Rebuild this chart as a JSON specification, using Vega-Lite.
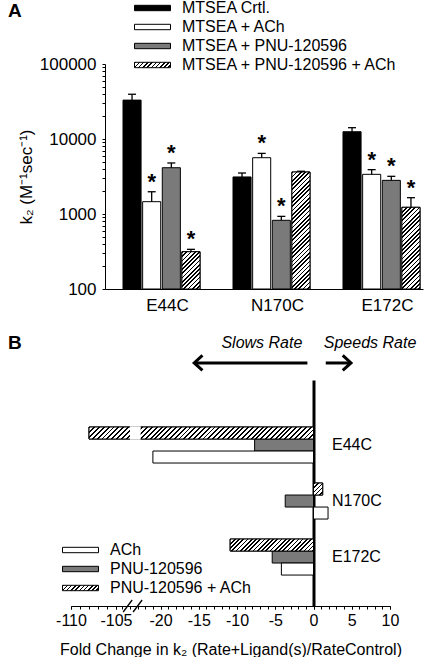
{
"$schema": "https://vega.github.io/schema/vega-lite/v6.json",
"padding": {"left": 8, "top": 0, "right": 0, "bottom": 0},
"spacing": 0,
"params": [
{"name": "hs", "value": [
{"offset":0,"color":"#000"},{"offset":0.008,"color":"#000"},{"offset":0.008,"color":"#fff"},{"offset":0.02,"color":"#fff"},
{"offset":0.02,"color":"#000"},{"offset":0.028,"color":"#000"},{"offset":0.028,"color":"#fff"},{"offset":0.04,"color":"#fff"},
{"offset":0.04,"color":"#000"},{"offset":0.048,"color":"#000"},{"offset":0.048,"color":"#fff"},{"offset":0.06,"color":"#fff"},
{"offset":0.06,"color":"#000"},{"offset":0.068,"color":"#000"},{"offset":0.068,"color":"#fff"},{"offset":0.08,"color":"#fff"},
{"offset":0.08,"color":"#000"},{"offset":0.088,"color":"#000"},{"offset":0.088,"color":"#fff"},{"offset":0.1,"color":"#fff"},
{"offset":0.1,"color":"#000"},{"offset":0.108,"color":"#000"},{"offset":0.108,"color":"#fff"},{"offset":0.12,"color":"#fff"},
{"offset":0.12,"color":"#000"},{"offset":0.128,"color":"#000"},{"offset":0.128,"color":"#fff"},{"offset":0.14,"color":"#fff"},
{"offset":0.14,"color":"#000"},{"offset":0.148,"color":"#000"},{"offset":0.148,"color":"#fff"},{"offset":0.16,"color":"#fff"},
{"offset":0.16,"color":"#000"},{"offset":0.168,"color":"#000"},{"offset":0.168,"color":"#fff"},{"offset":0.18,"color":"#fff"},
{"offset":0.18,"color":"#000"},{"offset":0.188,"color":"#000"},{"offset":0.188,"color":"#fff"},{"offset":0.2,"color":"#fff"},
{"offset":0.2,"color":"#000"},{"offset":0.208,"color":"#000"},{"offset":0.208,"color":"#fff"},{"offset":0.22,"color":"#fff"},
{"offset":0.22,"color":"#000"},{"offset":0.228,"color":"#000"},{"offset":0.228,"color":"#fff"},{"offset":0.24,"color":"#fff"},
{"offset":0.24,"color":"#000"},{"offset":0.248,"color":"#000"},{"offset":0.248,"color":"#fff"},{"offset":0.26,"color":"#fff"},
{"offset":0.26,"color":"#000"},{"offset":0.268,"color":"#000"},{"offset":0.268,"color":"#fff"},{"offset":0.28,"color":"#fff"},
{"offset":0.28,"color":"#000"},{"offset":0.288,"color":"#000"},{"offset":0.288,"color":"#fff"},{"offset":0.3,"color":"#fff"},
{"offset":0.3,"color":"#000"},{"offset":0.308,"color":"#000"},{"offset":0.308,"color":"#fff"},{"offset":0.32,"color":"#fff"},
{"offset":0.32,"color":"#000"},{"offset":0.328,"color":"#000"},{"offset":0.328,"color":"#fff"},{"offset":0.34,"color":"#fff"},
{"offset":0.34,"color":"#000"},{"offset":0.348,"color":"#000"},{"offset":0.348,"color":"#fff"},{"offset":0.36,"color":"#fff"},
{"offset":0.36,"color":"#000"},{"offset":0.368,"color":"#000"},{"offset":0.368,"color":"#fff"},{"offset":0.38,"color":"#fff"},
{"offset":0.38,"color":"#000"},{"offset":0.388,"color":"#000"},{"offset":0.388,"color":"#fff"},{"offset":0.4,"color":"#fff"},
{"offset":0.4,"color":"#000"},{"offset":0.408,"color":"#000"},{"offset":0.408,"color":"#fff"},{"offset":0.42,"color":"#fff"},
{"offset":0.42,"color":"#000"},{"offset":0.428,"color":"#000"},{"offset":0.428,"color":"#fff"},{"offset":0.44,"color":"#fff"},
{"offset":0.44,"color":"#000"},{"offset":0.448,"color":"#000"},{"offset":0.448,"color":"#fff"},{"offset":0.46,"color":"#fff"},
{"offset":0.46,"color":"#000"},{"offset":0.468,"color":"#000"},{"offset":0.468,"color":"#fff"},{"offset":0.48,"color":"#fff"},
{"offset":0.48,"color":"#000"},{"offset":0.488,"color":"#000"},{"offset":0.488,"color":"#fff"},{"offset":0.5,"color":"#fff"},
{"offset":0.5,"color":"#000"},{"offset":0.508,"color":"#000"},{"offset":0.508,"color":"#fff"},{"offset":0.52,"color":"#fff"},
{"offset":0.52,"color":"#000"},{"offset":0.528,"color":"#000"},{"offset":0.528,"color":"#fff"},{"offset":0.54,"color":"#fff"},
{"offset":0.54,"color":"#000"},{"offset":0.548,"color":"#000"},{"offset":0.548,"color":"#fff"},{"offset":0.56,"color":"#fff"},
{"offset":0.56,"color":"#000"},{"offset":0.568,"color":"#000"},{"offset":0.568,"color":"#fff"},{"offset":0.58,"color":"#fff"},
{"offset":0.58,"color":"#000"},{"offset":0.588,"color":"#000"},{"offset":0.588,"color":"#fff"},{"offset":0.6,"color":"#fff"},
{"offset":0.6,"color":"#000"},{"offset":0.608,"color":"#000"},{"offset":0.608,"color":"#fff"},{"offset":0.62,"color":"#fff"},
{"offset":0.62,"color":"#000"},{"offset":0.628,"color":"#000"},{"offset":0.628,"color":"#fff"},{"offset":0.64,"color":"#fff"},
{"offset":0.64,"color":"#000"},{"offset":0.648,"color":"#000"},{"offset":0.648,"color":"#fff"},{"offset":0.66,"color":"#fff"},
{"offset":0.66,"color":"#000"},{"offset":0.668,"color":"#000"},{"offset":0.668,"color":"#fff"},{"offset":0.68,"color":"#fff"},
{"offset":0.68,"color":"#000"},{"offset":0.688,"color":"#000"},{"offset":0.688,"color":"#fff"},{"offset":0.7,"color":"#fff"},
{"offset":0.7,"color":"#000"},{"offset":0.708,"color":"#000"},{"offset":0.708,"color":"#fff"},{"offset":0.72,"color":"#fff"},
{"offset":0.72,"color":"#000"},{"offset":0.728,"color":"#000"},{"offset":0.728,"color":"#fff"},{"offset":0.74,"color":"#fff"},
{"offset":0.74,"color":"#000"},{"offset":0.748,"color":"#000"},{"offset":0.748,"color":"#fff"},{"offset":0.76,"color":"#fff"},
{"offset":0.76,"color":"#000"},{"offset":0.768,"color":"#000"},{"offset":0.768,"color":"#fff"},{"offset":0.78,"color":"#fff"},
{"offset":0.78,"color":"#000"},{"offset":0.788,"color":"#000"},{"offset":0.788,"color":"#fff"},{"offset":0.8,"color":"#fff"},
{"offset":0.8,"color":"#000"},{"offset":0.808,"color":"#000"},{"offset":0.808,"color":"#fff"},{"offset":0.82,"color":"#fff"},
{"offset":0.82,"color":"#000"},{"offset":0.828,"color":"#000"},{"offset":0.828,"color":"#fff"},{"offset":0.84,"color":"#fff"},
{"offset":0.84,"color":"#000"},{"offset":0.848,"color":"#000"},{"offset":0.848,"color":"#fff"},{"offset":0.86,"color":"#fff"},
{"offset":0.86,"color":"#000"},{"offset":0.868,"color":"#000"},{"offset":0.868,"color":"#fff"},{"offset":0.88,"color":"#fff"},
{"offset":0.88,"color":"#000"},{"offset":0.888,"color":"#000"},{"offset":0.888,"color":"#fff"},{"offset":0.9,"color":"#fff"},
{"offset":0.9,"color":"#000"},{"offset":0.908,"color":"#000"},{"offset":0.908,"color":"#fff"},{"offset":0.92,"color":"#fff"},
{"offset":0.92,"color":"#000"},{"offset":0.928,"color":"#000"},{"offset":0.928,"color":"#fff"},{"offset":0.94,"color":"#fff"},
{"offset":0.94,"color":"#000"},{"offset":0.948,"color":"#000"},{"offset":0.948,"color":"#fff"},{"offset":0.96,"color":"#fff"},
{"offset":0.96,"color":"#000"},{"offset":0.968,"color":"#000"},{"offset":0.968,"color":"#fff"},{"offset":0.98,"color":"#fff"},
{"offset":0.98,"color":"#000"},{"offset":0.988,"color":"#000"},{"offset":0.988,"color":"#fff"},{"offset":1,"color":"#fff"}
]},
{"name": "gLeg", "expr": "{gradient:'linear',x1:0,y1:0,x2:5.763,y2:0.8644,stops:hs}"},
{"name": "gA1", "expr": "{gradient:'linear',x1:0,y1:0,x2:2.234,y2:4.608,stops:hs}"},
{"name": "gA2", "expr": "{gradient:'linear',x1:0,y1:0,x2:0.2735,y2:1.771,stops:hs}"},
{"name": "gA3", "expr": "{gradient:'linear',x1:0,y1:0,x2:0.5476,y2:2.4756,stops:hs}"},
{"name": "gB1", "expr": "{gradient:'linear',x1:0,y1:0,x2:1.0679,y2:0.05708,stops:hs}"},
{"name": "gB2", "expr": "{gradient:'linear',x1:0,y1:0,x2:8.53,y2:11.15,stops:hs}"},
{"name": "gB3", "expr": "{gradient:'linear',x1:0,y1:0,x2:2.4928,y2:0.3588,stops:hs}"}
],
"config": {
"font": "Liberation Sans",
"view": {"stroke": null},
"axis": {"labelColor": "black", "titleColor": "black", "domainColor": "black", "tickColor": "black", "grid": false, "labelFont": "Liberation Sans", "titleFont": "Liberation Sans", "titleFontWeight": "normal"},
"legend": {"labelColor": "black", "labelFont": "Liberation Sans"},
"title": {"color": "black", "font": "Liberation Sans"}
},
"resolve": {"scale": {"x": "independent", "y": "independent", "color": "independent"}, "legend": {"color": "independent"}},
"vconcat": [
{
"width": 318, "height": 225,
"title": {"text": "A", "anchor": "start", "frame": "group", "dx": -97, "offset": -21, "fontSize": 19, "fontWeight": "bold"},
"data": {"values": [
{"mutant":"E44C","series":"MTSEA Crtl.","value":33000,"err":39500,"sig":false},
{"mutant":"E44C","series":"MTSEA + ACh","value":1460,"err":1980,"sig":true},
{"mutant":"E44C","series":"MTSEA + PNU-120596","value":4140,"err":4790,"sig":true},
{"mutant":"E44C","series":"MTSEA + PNU-120596 + ACh","value":314,"err":338,"sig":true},
{"mutant":"N170C","series":"MTSEA Crtl.","value":3120,"err":3520,"sig":false},
{"mutant":"N170C","series":"MTSEA + ACh","value":5630,"err":6430,"sig":true},
{"mutant":"N170C","series":"MTSEA + PNU-120596","value":824,"err":930,"sig":true},
{"mutant":"N170C","series":"MTSEA + PNU-120596 + ACh","value":3630,"err":3715,"sig":false},
{"mutant":"E172C","series":"MTSEA Crtl.","value":12500,"err":14150,"sig":false},
{"mutant":"E172C","series":"MTSEA + ACh","value":3380,"err":3900,"sig":true},
{"mutant":"E172C","series":"MTSEA + PNU-120596","value":2810,"err":3180,"sig":true},
{"mutant":"E172C","series":"MTSEA + PNU-120596 + ACh","value":1228,"err":1650,"sig":true}
]},
"encoding": {
"x": {"field": "mutant", "type": "nominal", "title": null, "scale": {"domain": ["E44C","N170C","E172C"], "paddingInner": 0.3, "paddingOuter": 0.0955, "align": 0.857},
"axis": {"ticks": false, "labelFontSize": 17, "labelPadding": 8, "labelAngle": 0, "labelOffset": 6}},
"xOffset": {"field": "series", "type": "nominal", "scale": {"domain": ["MTSEA Crtl.","MTSEA + ACh","MTSEA + PNU-120596","MTSEA + PNU-120596 + ACh"], "paddingInner": 0.08, "paddingOuter": 0}}
},
"layer": [
{"mark": {"type": "bar", "stroke": "black", "strokeWidth": 1},
"encoding": {
"y": {"field": "value", "type": "quantitative", "stack": null, "title": "k₂ (M⁻¹sec⁻¹)", "scale": {"type": "log", "domain": [100, 100000], "nice": false},
"axis": {"values": [100,200,300,400,500,600,700,800,900,1000,2000,3000,4000,5000,6000,7000,8000,9000,10000,20000,30000,40000,50000,60000,70000,80000,90000,100000], "format": "d",
"labelExpr": "datum.value == 100 || datum.value == 1000 || datum.value == 10000 || datum.value == 100000 ? datum.label : ''",
"tickSize": 3, "labelFontSize": 17, "labelPadding": 6, "titleFontSize": 17, "titlePadding": 4, "labelOverlap": false, "labelFlush": false}},
"color": {"field": "series", "type": "nominal", "scale": {"domain": ["MTSEA Crtl.","MTSEA + ACh","MTSEA + PNU-120596","MTSEA + PNU-120596 + ACh"], "range": ["black","white","#7a7a7a",{"expr": "gLeg"}]},
"legend": {"orient": "none", "legendX": 27.5, "legendY": -64, "title": null, "symbolType": "M-1,-0.45H5V0.45H-1Z", "symbolSize": 144, "symbolStrokeColor": "black", "symbolStrokeWidth": 1, "labelFontSize": 16, "labelOffset": 33.5, "labelLimit": 300, "rowPadding": 3, "padding": 0,
"encode": {"symbols": {"update": {"stroke": {"value": "black"}, "strokeWidth": {"value": 1}, "opacity": {"value": 1}, "fillOpacity": {"value": 1}, "strokeOpacity": {"value": 1}}}}}}
}},
{"transform": [{"filter": "datum.series === 'MTSEA + PNU-120596 + ACh'"}],
"mark": {"type": "bar", "stroke": "black", "strokeWidth": 1, "fill": {"expr": "datum.mutant === 'E44C' ? gA1 : datum.mutant === 'N170C' ? gA2 : gA3"}},
"encoding": {"y": {"field": "value", "type": "quantitative", "stack": null, "title": "k₂ (M⁻¹sec⁻¹)"}}},
{"mark": {"type": "rule", "color": "black", "strokeWidth": 1.3},
"encoding": {"y": {"field": "value", "type": "quantitative", "title": "k₂ (M⁻¹sec⁻¹)"}, "y2": {"field": "err"}}},
{"mark": {"type": "tick", "color": "black", "size": 8, "thickness": 1.3, "opacity": 1},
"encoding": {"y": {"field": "err", "type": "quantitative", "title": "k₂ (M⁻¹sec⁻¹)"}}},
{"transform": [{"filter": "datum.sig"}],
"mark": {"type": "text", "text": "*", "fontSize": 22, "fontWeight": "bold", "dy": -3, "baseline": "alphabetic", "color": "black"},
"encoding": {"y": {"field": "err", "type": "quantitative", "title": "k₂ (M⁻¹sec⁻¹)"}}}
]
},
{
"width": 318, "height": 67,
"title": {"text": "B", "anchor": "start", "frame": "group", "dx": -97, "offset": 0, "dy": 40, "fontSize": 19, "fontWeight": "bold"},
"data": {"values": [{}]},
"layer": [
{"mark": {"type": "text", "text": "Slows Rate", "fontStyle": "italic", "fontSize": 16, "baseline": "middle", "color": "black"},
"encoding": {"x": {"datum": -6.75, "type": "quantitative", "scale": {"domain": [-110,-105,-25,10], "range": [-34,11,17.3,285], "nice": false, "zero": false}, "axis": null},
"y": {"datum": 0.552, "type": "quantitative", "scale": {"domain": [0,1], "nice": false}, "axis": null}}},
{"mark": {"type": "text", "text": "Speeds Rate", "fontStyle": "italic", "fontSize": 16, "baseline": "middle", "color": "black"},
"encoding": {"x": {"datum": 7.39, "type": "quantitative"}, "y": {"datum": 0.552, "type": "quantitative"}}},
{"mark": {"type": "rule", "color": "black", "strokeWidth": 3},
"encoding": {"x": {"datum": -15.6, "type": "quantitative"}, "x2": {"datum": -0.8}, "y": {"datum": 0.254, "type": "quantitative"}}},
{"mark": {"type": "rule", "color": "black", "strokeWidth": 3},
"encoding": {"x": {"datum": 1.6, "type": "quantitative"}, "x2": {"datum": 4.9}, "y": {"datum": 0.254, "type": "quantitative"}}},
{"mark": {"type": "point", "shape": "M1.1,-1L0,0L1.1,1", "size": 225, "filled": false, "stroke": "black", "strokeWidth": 3, "opacity": 1},
"encoding": {"x": {"datum": -15.6, "type": "quantitative"}, "y": {"datum": 0.254, "type": "quantitative"}}},
{"mark": {"type": "point", "shape": "M-1.1,-1L0,0L-1.1,1", "size": 225, "filled": false, "stroke": "black", "strokeWidth": 3, "opacity": 1},
"encoding": {"x": {"datum": 4.9, "type": "quantitative"}, "y": {"datum": 0.254, "type": "quantitative"}}}
]
},
{
"width": 318, "height": 226,
"data": {"values": [
{"mutant":"E44C","series":"PNU-120596 + ACh","value":-108},
{"mutant":"E44C","series":"PNU-120596","value":-7.7},
{"mutant":"E44C","series":"ACh","value":-21},
{"mutant":"N170C","series":"PNU-120596 + ACh","value":1.2},
{"mutant":"N170C","series":"PNU-120596","value":-3.7},
{"mutant":"N170C","series":"ACh","value":1.9},
{"mutant":"E172C","series":"PNU-120596 + ACh","value":-10.9},
{"mutant":"E172C","series":"PNU-120596","value":-5.4},
{"mutant":"E172C","series":"ACh","value":-4.2}
]},
"resolve": {"axis": {"x": "independent"}},
"layer": [
{"mark": {"type": "bar", "stroke": "black", "strokeWidth": 1},
"encoding": {
"x": {"field": "value", "type": "quantitative", "stack": null, "title": "Fold Change in k₂ (Rate+Ligand(s)/RateControl)",
"scale": {"domain": [-110,-105,-25,10], "range": [-34,11,17.3,285], "nice": false, "zero": false},
"axis": {"orient": "bottom", "values": [-110,-105,-20,-15,-10,-5,0,5,10],
"labelExpr": "'' + datum.value",
"tickSize": 3, "labelFontSize": 16, "labelPadding": 3, "titleFontSize": 16, "titlePadding": 13, "labelOverlap": false, "labelFlush": false}},
"x2": {"datum": 0},
"y": {"field": "mutant", "type": "nominal", "title": null, "scale": {"domain": ["E44C","N170C","E172C"], "paddingInner": 0.357, "paddingOuter": 0.696, "align": 0.603},
"axis": {"orient": "right", "offset": -109.5, "ticks": false, "domainWidth": 3, "labelFontSize": 16, "labelPadding": 18}},
"yOffset": {"field": "series", "type": "nominal", "scale": {"domain": ["PNU-120596 + ACh","PNU-120596","ACh"], "paddingInner": 0, "paddingOuter": 0}},
"color": {"field": "series", "type": "nominal", "scale": {"domain": ["ACh","PNU-120596","PNU-120596 + ACh"], "range": ["white","#7a7a7a",{"expr": "gLeg"}]},
"legend": {"orient": "none", "legendX": -44.5, "legendY": 162, "title": null, "symbolType": "M-1,-0.45H5V0.45H-1Z", "symbolSize": 144, "symbolStrokeColor": "black", "symbolStrokeWidth": 1, "labelFontSize": 16, "labelOffset": 33.5, "labelLimit": 300, "rowPadding": 3, "padding": 0,
"encode": {"symbols": {"update": {"stroke": {"value": "black"}, "strokeWidth": {"value": 1}, "opacity": {"value": 1}, "fillOpacity": {"value": 1}, "strokeOpacity": {"value": 1}}}}}}
}},
{"transform": [{"filter": "datum.series === 'PNU-120596 + ACh'"}],
"mark": {"type": "bar", "stroke": "black", "strokeWidth": 1, "fill": {"expr": "datum.mutant === 'E44C' ? gB1 : datum.mutant === 'N170C' ? gB2 : gB3"}},
"encoding": {
"x": {"field": "value", "type": "quantitative", "stack": null, "axis": null},
"x2": {"datum": 0},
"y": {"field": "mutant", "type": "nominal", "title": null},
"yOffset": {"field": "series", "type": "nominal"}}},
{"transform": [{"filter": "datum.series === 'PNU-120596 + ACh' && datum.mutant === 'E44C'"}],
"mark": {"type": "bar", "fill": "white", "stroke": "white", "strokeWidth": 1.5},
"encoding": {
"x": {"datum": -23.9, "type": "quantitative", "axis": null},
"x2": {"datum": -22.7},
"y": {"field": "mutant", "type": "nominal", "title": null},
"yOffset": {"field": "series", "type": "nominal"}}},
{"transform": [{"filter": "datum.series === 'PNU-120596 + ACh' && datum.mutant === 'E44C'"}],
"mark": {"type": "point", "shape": "M-1.58,1L-0.08,-1M0.08,1L1.58,-1", "size": 144, "filled": false, "stroke": "black", "strokeWidth": 1.3, "opacity": 1},
"encoding": {"x": {"datum": -23.65, "type": "quantitative",
"axis": {"orient": "bottom", "title": null, "domain": false, "labels": false, "tickSize": 3, "values": [-110,-109,-108,-107,-106,-105,-25,-24,-23,-22,-21,-20,-19,-18,-17,-16,-15,-14,-13,-12,-11,-10,-9,-8,-7,-6,-5,-4,-3,-2,-1,0,1,2,3,4,5,6,7,8,9,10]}},
"y": {"value": "height"}}}
]
}
]
}
